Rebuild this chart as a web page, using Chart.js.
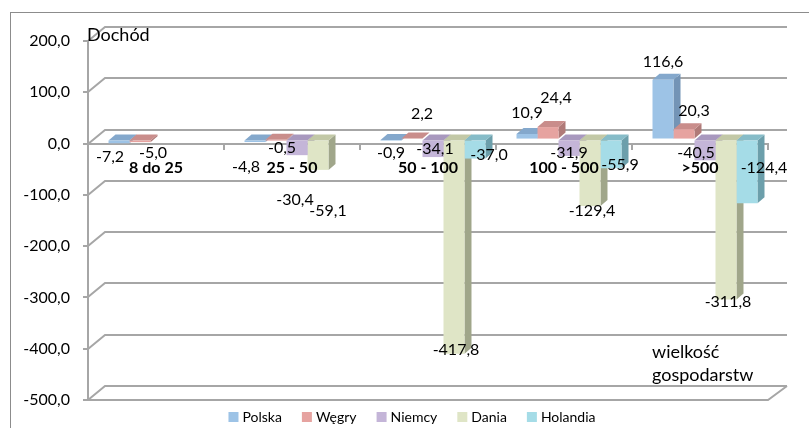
<!DOCTYPE html>
<html>
<head>
<meta charset="utf-8">
<script src="https://cdn.jsdelivr.net/npm/chart.js@4.4.1/dist/chart.umd.min.js"></script>
<style>
  html, body { margin: 0; padding: 0; background: #fff; overflow: hidden; }
  #wrap { width: 809px; height: 428px; position: relative; }
</style>
</head>
<body>
<div id="wrap"><canvas id="chart" width="809" height="428"></canvas></div>
<script>
// data
const categories = ["8 do 25", "25 - 50", "50 - 100", "100 - 500", ">500"];
const seriesNames = ["Polska", "Węgry", "Niemcy", "Dania", "Holandia"];
const polska = [-7.2, -4.8, -0.9, 10.9, 116.6];
const wegry = [-5.0, -0.5, 2.2, 24.4, 20.3];
const niemcy = [null, -30.4, -34.1, -31.9, -40.5];
const dania = [null, -59.1, -417.8, -129.4, -311.8];
const holandia = [null, null, -37.0, -55.9, -124.4];
const yTicks = [200, 100, 0, -100, -200, -300, -400, -500];

// styles
const frontColors = ["#9dc3e6", "#e6a3a0", "#c4b5d8", "#dfe5c6", "#a5dce7"];
const sideColors = ["#7394b6", "#b07a78", "#8f80a6", "#a0a68a", "#6c9fab"];
const topColors = ["#84a8cc", "#c98d8b", "#a898be", "#c2c8a6", "#86bcc8"];
const GRID = "#a6a6a6";
const WALL_DX = 17, WALL_DY = -14;   // back wall offset
const BAR_DX = 5, BAR_DY = -4;       // bars sit mid-depth
const DEPTH_X = 7, DEPTH_Y = -6;     // bar depth
// label nudges from the bar end, per series / category
const labelNudge = [
  [[-9, 14], [-9, 25], [0, 13], [0, -21], [0, -18]],
  [[13, 11], [6, 8], [10, -25], [8, -29], [10, -18]],
  [null, [-2, 45], [2, -8], [0, -3], [-9, -7]],
  [null, [10, 41], [2, -4], [2, 5], [2, 2]],
  [null, null, [14, -4], [9, -3], [17, -36]]
];

const fmt = (v) => v.toFixed(1).replace(".", ",");
const FONT = "Lato, 'Open Sans', sans-serif";

function poly(ctx, pts, color) {
  ctx.beginPath();
  ctx.moveTo(pts[0][0], pts[0][1]);
  for (let i = 1; i < pts.length; i++) ctx.lineTo(pts[i][0], pts[i][1]);
  ctx.closePath();
  ctx.fillStyle = color;
  ctx.fill();
}

const threeD = {
  id: "threeD",
  beforeDatasetsDraw(chart) {
    const ctx = chart.ctx;
    const area = chart.chartArea;
    const y = chart.scales.y;
    // back wall + side wall lines
    ctx.save();
    ctx.strokeStyle = GRID;
    ctx.lineWidth = 2;
    yTicks.forEach((v) => {
      const py = Math.round(y.getPixelForValue(v));
      ctx.beginPath();
      ctx.moveTo(area.left, py);
      ctx.lineTo(area.left + WALL_DX, py + WALL_DY);
      ctx.lineTo(area.right + WALL_DX + 2, py + WALL_DY);
      ctx.stroke();
    });
    // floor front edge
    const fy = Math.round(y.getPixelForValue(-500));
    ctx.beginPath();
    ctx.moveTo(area.left, fy);
    ctx.lineTo(area.right, fy);
    ctx.lineTo(area.right + WALL_DX + 2, fy + WALL_DY);
    ctx.stroke();
    ctx.restore();

    // side and top faces, then leave the shift on for the front faces
    ctx.save();
    ctx.translate(BAR_DX, BAR_DY);
    chart.data.datasets.forEach((ds, i) => {
      const meta = chart.getDatasetMeta(i);
      meta.data.forEach((bar, j) => {
        if (ds.data[j] == null) return;
        const p = bar.getProps(["x", "y", "base", "width"], true);
        const l = p.x - p.width / 2, r = p.x + p.width / 2;
        const t = Math.min(p.y, p.base), b = Math.max(p.y, p.base);
        poly(ctx, [[r, t], [r + DEPTH_X, t + DEPTH_Y], [r + DEPTH_X, b + DEPTH_Y], [r, b]], sideColors[i]);
        poly(ctx, [[l, t], [r, t], [r + DEPTH_X, t + DEPTH_Y], [l + DEPTH_X, t + DEPTH_Y]], topColors[i]);
      });
    });
  },
  afterDatasetsDraw(chart) {
    const ctx = chart.ctx;
    ctx.restore();
    ctx.save();
    ctx.fillStyle = "#000";
    ctx.textAlign = "center";
    ctx.textBaseline = "middle";
    // category labels sit on top of the bars
    const xs = chart.scales.x;
    const zero = chart.scales.y.getPixelForValue(0);
    ctx.font = "bold 16px " + FONT;
    categories.forEach((c, i) => ctx.fillText(c, xs.getPixelForTick(i), zero + 24));
    // value labels
    ctx.font = "16px " + FONT;
    chart.data.datasets.forEach((ds, i) => {
      chart.getDatasetMeta(i).data.forEach((bar, j) => {
        const v = ds.data[j];
        if (v == null) return;
        const n = labelNudge[i][j] || [0, 0];
        ctx.fillText(fmt(v), bar.x + BAR_DX + n[0], bar.y + BAR_DY + n[1]);
      });
    });
    ctx.restore();
  },
  afterDraw(chart) {
    const ctx = chart.ctx;
    const area = chart.chartArea;
    ctx.save();
    // outer frame
    ctx.strokeStyle = "#8c8c8c";
    ctx.lineWidth = 1;
    ctx.strokeRect(10.5, 12.5, 840, 440);
    // axis titles
    ctx.fillStyle = "#000";
    ctx.font = "18px " + FONT;
    ctx.textAlign = "left";
    ctx.textBaseline = "middle";
    ctx.fillText("Dochód", area.left - 1, 35);
    ctx.fillText("wielkość", 652, 352);
    ctx.fillText("gospodarstw", 652, 375);
    // legend
    ctx.font = "14px " + FONT;
    const items = chart.data.datasets.map((ds, i) => ({ text: ds.label, color: frontColors[i], w: ctx.measureText(ds.label).width }));
    const total = items.reduce((s, it) => s + 14 + it.w, 0) + 20 * (items.length - 1);
    let x = 412 - total / 2;
    const ly = 417;
    items.forEach((it) => {
      ctx.fillStyle = it.color;
      ctx.fillRect(x, ly - 5, 10, 10);
      ctx.fillStyle = "#000";
      ctx.fillText(it.text, x + 14, ly);
      x += 14 + it.w + 20;
    });
    ctx.restore();
  }
};

const seriesData = [polska, wegry, niemcy, dania, holandia];

new Chart(document.getElementById("chart"), {
  type: "bar",
  data: {
    labels: categories,
    datasets: seriesData.map((d, i) => ({
      label: seriesNames[i],
      data: d,
      backgroundColor: frontColors[i],
      borderWidth: 0,
      clip: false
    }))
  },
  options: {
    responsive: false,
    animation: false,
    devicePixelRatio: 1,
    categoryPercentage: 0.772,
    barPercentage: 1,
    layout: { padding: { top: 41, right: 41, bottom: 28, left: 0 } },
    plugins: { legend: { display: false }, tooltip: { enabled: false } },
    scales: {
      x: {
        position: { y: 0 },
        afterFit: (s) => { s.height = 0; },
        border: { display: true, color: GRID, width: 2 },
        grid: { offset: true, drawOnChartArea: false, drawTicks: true, tickLength: 5, color: GRID, lineWidth: 2 },
        ticks: { display: false }
      },
      y: {
        min: -500,
        max: 200,
        afterFit: (s) => { s.width = 88; },
        afterBuildTicks: (s) => { s.ticks = yTicks.map((v) => ({ value: v })); },
        border: { display: true, color: GRID, width: 2 },
        grid: { drawOnChartArea: false, drawTicks: true, tickLength: 5, color: GRID, lineWidth: 2 },
        ticks: { color: "#000", padding: 13, font: { family: FONT, size: 16 }, callback: (v) => fmt(v) }
      }
    }
  },
  plugins: [threeD]
});
</script>
</body>
</html>
